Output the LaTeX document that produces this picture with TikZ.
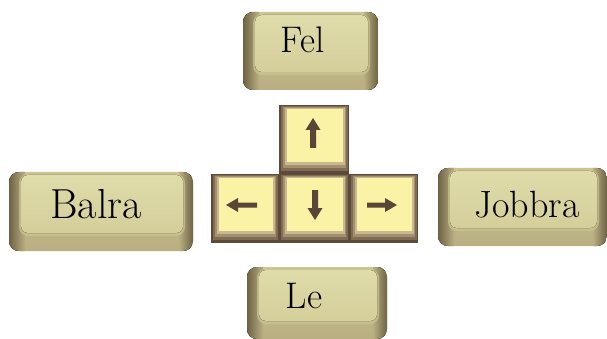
\documentclass[tikz,border=0pt]{standalone}
\usetikzlibrary{calc}
\definecolor{kdark}{HTML}{6E6244}
\definecolor{kmid}{HTML}{B9AF82}
\definecolor{kedge}{HTML}{CBC593}
\definecolor{kface}{HTML}{DFDCAB}
\definecolor{kfacelo}{HTML}{D4CE9A}
\definecolor{sbA}{HTML}{5C4A3A}
\definecolor{sbB}{HTML}{806B53}
\definecolor{sbC}{HTML}{A48F6E}
\definecolor{sbD}{HTML}{CAB88F}
\definecolor{sface}{HTML}{FAF3A6}
\definecolor{arrowc}{HTML}{5A4636}
\newcommand\bigkeyshape[4]{%
  \begin{scope}
  \clip[rounded corners=10pt] (#1,#2) rectangle (#3,#4);
  \fill[top color=kedge, bottom color=kmid] (#1,#2) rectangle (#3,#4);
  \fill[left color=kdark, right color=kmid] (#1,#2) rectangle ($(#1,#4)+(16,0)$);
  \fill[left color=kmid, right color=kdark] ($(#3,#2)+(-14,0)$) rectangle (#3,#4);
  \end{scope}
  \fill[rounded corners=9pt, kedge, opacity=0.7] ($(#1,#2)+(10,2)$) rectangle ($(#3,#4)+(-8,-15)$);
  \fill[rounded corners=7pt, top color=kface, bottom color=kfacelo] ($(#1,#2)+(12,3)$) rectangle ($(#3,#4)+(-10,-18)$);
}
\newcommand\smallkeyshape[4]{%
  \fill[sbA] (#1,#2) rectangle (#3,#4);
  \fill[sbB] ($(#1,#2)+(2,1)$) rectangle ($(#3,#4)+(-1.5,-3)$);
  \fill[sbC] ($(#1,#2)+(4,2)$) rectangle ($(#3,#4)+(-3,-6)$);
  \fill[sbD] ($(#1,#2)+(6,3)$) rectangle ($(#3,#4)+(-4.5,-9)$);
  \fill[sface] ($(#1,#2)+(8,4)$) rectangle ($(#3,#4)+(-6,-12)$);
}
\tikzset{keytext/.style={anchor=base, inner sep=0pt, text=black}}
\begin{document}
\begin{tikzpicture}[x=1pt, y=-1pt]
\useasboundingbox (0,0) rectangle (607,339);
% big keys
\bigkeyshape{243}{12}{378}{90}
\bigkeyshape{9}{172}{193}{251}
\bigkeyshape{438}{168}{607}{246}
\bigkeyshape{247}{267}{387}{339}
% small keys
\smallkeyshape{279}{105}{349}{174}
\smallkeyshape{211}{174}{279}{243}
\smallkeyshape{279}{174}{349}{243}
\smallkeyshape{349}{174}{418}{243}
% arrows
\fill[arrowc] (313,118) -- (320.5,130) -- (316,130) -- (316,148) -- (310,148) -- (310,130) -- (305.5,130) -- cycle;
\fill[arrowc] (315,220) -- (322.5,208) -- (318,208) -- (318,190) -- (312,190) -- (312,208) -- (307.5,208) -- cycle;
\fill[arrowc] (226,205) -- (238,198) -- (238,202.5) -- (257,202.5) -- (257,207.5) -- (238,207.5) -- (238,212) -- cycle;
\fill[arrowc] (397,205) -- (385,198) -- (385,202.5) -- (367,202.5) -- (367,207.5) -- (385,207.5) -- (385,212) -- cycle;
% labels
\node[keytext, font=\fontsize{37}{37}\selectfont] (fel) at (302.5,53) {Fel};
\node[keytext, font=\fontsize{42}{42}\selectfont] (balra) at (96,218) {Balra};
\node[keytext, font=\fontsize{38}{38}\selectfont] (jobbra) at (527,217) {Jobbra};
\node[keytext, font=\fontsize{37}{37}\selectfont] (le) at (304,308) {Le};
\end{tikzpicture}
\end{document}
